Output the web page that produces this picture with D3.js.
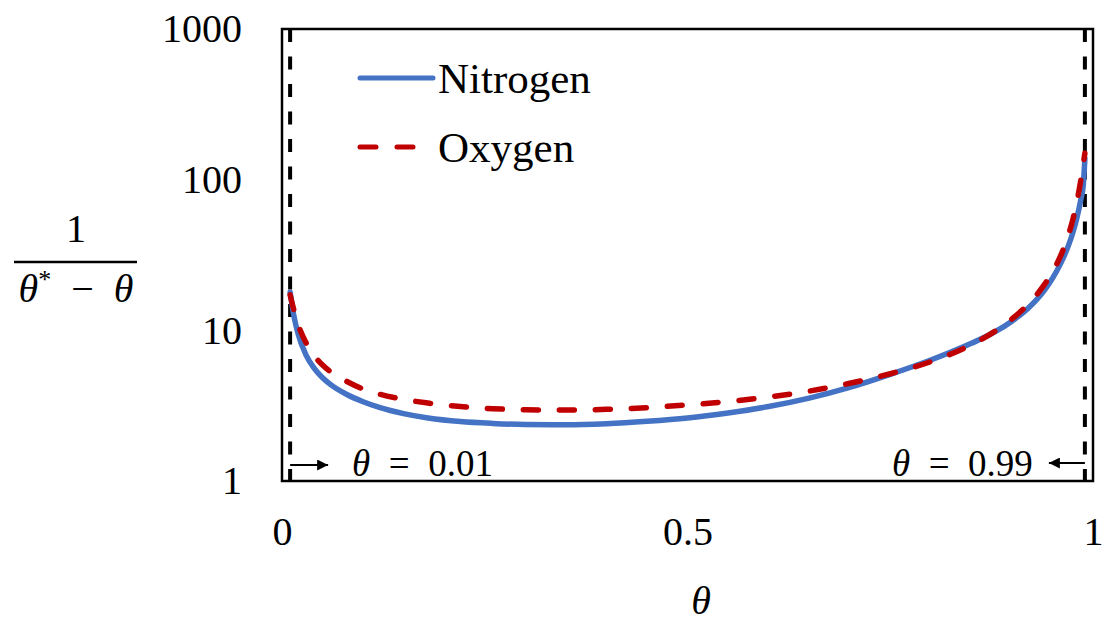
<!DOCTYPE html>
<html>
<head>
<meta charset="utf-8">
<script src="https://cdn.jsdelivr.net/npm/d3@7"></script>
<style>
  body { margin: 0; background: #fff; }
  text { font-family: "Liberation Serif", "Times New Roman", serif; fill: #000; }
</style>
</head>
<body>
<div id="chart"></div>
<script>
// values
var theta = [0.01, 0.015, 0.02, 0.03, 0.04, 0.05, 0.06, 0.08, 0.10, 0.12, 0.15, 0.18, 0.22, 0.26, 0.30,
    0.35, 0.40, 0.45, 0.50, 0.55, 0.60, 0.65, 0.70, 0.75, 0.80, 0.85, 0.88, 0.90, 0.92, 0.94, 0.95,
    0.96, 0.97, 0.975, 0.98, 0.985, 0.988, 0.99];
var nitrogen = [17.9, 12.2, 9.4, 6.8, 5.56, 4.84, 4.36, 3.75, 3.36, 3.08, 2.80, 2.62, 2.48, 2.41, 2.37,
    2.36, 2.40, 2.49, 2.62, 2.83, 3.12, 3.55, 4.18, 5.1, 6.35, 8.2, 9.83, 11.5, 14.0, 18.4, 22.1,
    27.7, 36.9, 44.3, 55.3, 73.8, 92, 138];
var oxygen = [17.2, 13.4, 10.9, 8.2, 6.75, 5.88, 5.3, 4.58, 4.08, 3.77, 3.48, 3.29, 3.12, 3.02, 2.97,
    2.955, 2.99, 3.07, 3.2, 3.37, 3.61, 3.95, 4.45, 5.15, 6.2, 8.03, 9.93, 11.9, 14.9, 20.1, 24.4,
    31.2, 43.4, 54.1, 70.6, 99.8, 127, 150];
var seriesNames = ["Nitrogen", "Oxygen"];
var yTicks = [1, 10, 100, 1000];
var xTicks = [0, 0.5, 1];
var markers = [0.01, 0.99];

const W = 1104, H = 624;
const margin = { top: 29, right: 11, bottom: 143, left: 282 },
    width = W - margin.left - margin.right,
    height = H - margin.top - margin.bottom;

const svg = d3.select("#chart")
    .append("svg")
    .attr("width", W)
    .attr("height", H);

const g = svg.append("g")
    .attr("transform", `translate(${margin.left}, ${margin.top})`);

var x = d3.scaleLinear().domain([0, 1]).range([0, width]);
var y = d3.scaleLog().domain([1, 1000]).range([height, 0]);

// axes (labels only)
var yAxis = g.append("g")
    .call(d3.axisLeft(y).tickValues(yTicks).tickSize(0).tickPadding(40).tickFormat(d3.format("d")));
yAxis.select(".domain").remove();
yAxis.selectAll("text").attr("font-size", 40).style("font-family", "Liberation Serif");

var xAxis = g.append("g")
    .attr("transform", "translate(0," + height + ")")
    .call(d3.axisBottom(x).tickValues(xTicks).tickSize(0).tickPadding(36).tickFormat(function (d) { return d === 0.5 ? "0.5" : d3.format("d")(d) }));
xAxis.select(".domain").remove();
xAxis.selectAll("text").attr("font-size", 40).style("font-family", "Liberation Serif");

// limit lines
g.selectAll(".limit")
    .data(markers)
    .enter().append("line")
    .attr("x1", d => x(d)).attr("x2", d => x(d))
    .attr("y1", 0).attr("y2", height)
    .attr("stroke", "#000")
    .attr("stroke-width", 4)
    .attr("stroke-dasharray", "13,14.5");

// curves
var line = d3.line()
    .x(function (d, i) { return x(theta[i]) })
    .y(function (d) { return y(d) })
    .curve(d3.curveMonotoneX);

g.append("path")
    .datum(nitrogen)
    .attr("d", line)
    .attr("fill", "none")
    .attr("stroke", "#4472C4")
    .attr("stroke-width", 5.5)
    .attr("stroke-linecap", "round");

g.append("path")
    .datum(oxygen)
    .attr("d", line)
    .attr("fill", "none")
    .attr("stroke", "#C00000")
    .attr("stroke-width", 5.5)
    .attr("stroke-linecap", "round")
    .attr("stroke-dasharray", "15,21");

// frame
g.append("rect")
    .attr("width", width).attr("height", height)
    .attr("fill", "none")
    .attr("stroke", "#000")
    .attr("stroke-width", 2.5);

// legend
var legend = g.append("g").attr("transform", "translate(78, 49)");
seriesNames.forEach(function (name, i) {
    var row = legend.append("g").attr("transform", "translate(0," + (i * 69) + ")");
    row.append("line")
        .attr("x1", 0).attr("x2", i === 0 ? 73 : 58)
        .attr("stroke", i === 0 ? "#4472C4" : "#C00000")
        .attr("stroke-width", 5)
        .attr("stroke-linecap", "round")
        .attr("stroke-dasharray", i === 0 ? null : "16,21");
    row.append("text")
        .attr("x", 78).attr("y", 15)
        .attr("font-size", 43)
        .text(name);
});

// arrows + annotations
svg.append("defs").append("marker")
    .attr("id", "arrowHead")
    .attr("viewBox", "0 0 10 10")
    .attr("refX", 10).attr("refY", 5)
    .attr("markerWidth", 15).attr("markerHeight", 11)
    .attr("markerUnits", "userSpaceOnUse")
    .attr("orient", "auto")
    .append("path")
    .attr("d", "M0,0 L10,5 L0,10 Z")
    .attr("fill", "#000");

var annY = height - 16;
g.append("line")
    .attr("x1", x(markers[0])).attr("x2", x(markers[0]) + 38)
    .attr("y1", annY).attr("y2", annY)
    .attr("stroke", "#000").attr("stroke-width", 2)
    .attr("marker-end", "url(#arrowHead)");
g.append("line")
    .attr("x1", x(markers[1])).attr("x2", x(markers[1]) - 36)
    .attr("y1", annY - 2).attr("y2", annY - 2)
    .attr("stroke", "#000").attr("stroke-width", 2)
    .attr("marker-end", "url(#arrowHead)");

function thetaLabel(sel, value) {
    sel.append("tspan").attr("font-style", "italic").text("θ");
    sel.append("tspan").text("\u2002=\u2002" + value);
}
g.append("text")
    .attr("x", x(markers[0]) + 62).attr("y", height - 5)
    .attr("font-size", 37)
    .call(thetaLabel, "0.01");
g.append("text")
    .attr("x", x(markers[1]) - 52).attr("y", height - 5)
    .attr("font-size", 37)
    .attr("text-anchor", "end")
    .call(thetaLabel, "0.99");

// x title
svg.append("text")
    .attr("x", 701).attr("y", 614)
    .attr("text-anchor", "middle")
    .attr("font-size", 40)
    .attr("font-style", "italic")
    .text("θ");

// y title as fraction
var frac = svg.append("g").attr("transform", "translate(76, 0)");
frac.append("text")
    .attr("y", 242).attr("text-anchor", "middle")
    .attr("font-size", 40)
    .text("1");
frac.append("line")
    .attr("x1", -62).attr("x2", 61)
    .attr("y1", 262).attr("y2", 262)
    .attr("stroke", "#000").attr("stroke-width", 2.5);
var den = frac.append("text")
    .attr("y", 302).attr("text-anchor", "middle")
    .attr("font-size", 40);
den.append("tspan").attr("font-style", "italic").text("θ");
den.append("tspan").attr("font-size", 26).attr("dy", -14).text("*");
den.append("tspan").attr("dy", 14).text("\u2002−\u2002");
den.append("tspan").attr("font-style", "italic").text("θ");
</script>
</body>
</html>
